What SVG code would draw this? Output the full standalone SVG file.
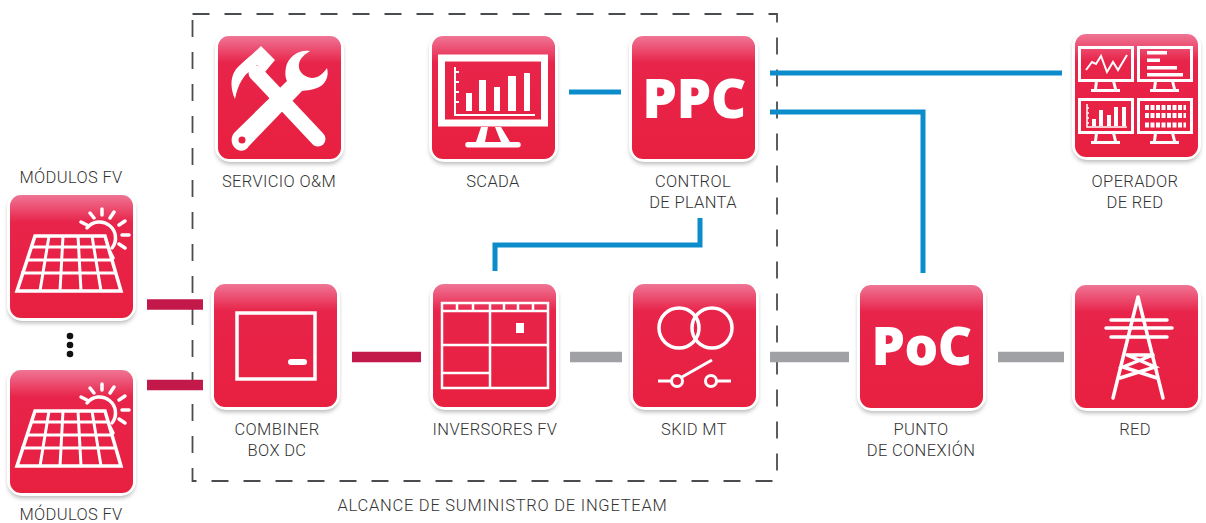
<svg xmlns="http://www.w3.org/2000/svg" xmlns:xlink="http://www.w3.org/1999/xlink" width="1206" height="523" viewBox="0 0 1206 523">
<style>
text{font-family:Roboto,"Liberation Sans",Arial,sans-serif;font-weight:300;font-size:16.500px;fill:#333;text-anchor:middle;letter-spacing:.35px}
text.big{font-family:"Open Sans","Liberation Sans",sans-serif;font-weight:800;fill:#fff;font-size:55px;letter-spacing:-.5px}
text.scope-label{letter-spacing:.75px}
.i{fill:none;stroke:#fff;stroke-width:3.500}
.f{fill:#fff;stroke:none}
.blue{fill:none;stroke:#0d8ccb;stroke-width:5}
.gray{fill:none;stroke:#a0a1a5;stroke-width:10.500}
.dc{fill:none;stroke:#c2184a;stroke-width:10.500}
</style>
<defs>
<linearGradient id="g" x1="0" y1="0" x2="0" y2="1"><stop offset="0" stop-color="#ef7595"/><stop offset=".22" stop-color="#e8244a"/><stop offset="1" stop-color="#e82040"/></linearGradient>
<filter id="s" x="-15%" y="-15%" width="130%" height="130%"><feGaussianBlur stdDeviation="2"/></filter>
<g id="tile">
<rect x="-2" y="1" width="127" height="127" rx="14" fill="#8a8a8a" filter="url(#s)" opacity=".6"/>
<rect x="-3" y="-3" width="129" height="129" rx="15" fill="#fff"/>
<rect width="123" height="123" rx="11" fill="url(#g)"/>
</g>
<g id="pv">
<use xlink:href="#tile"/>
<g class="i" stroke-linecap="round" stroke-width="3">
<path d="M77 33A15.500 15.500 0 1 1 102 53"/>
<path d="M71 27L77 30M80 18L84 23M92 14V20M104 17L100 23M115 26L109 30M119 40H112M115 53L109 49M103 63L100 57"/>
</g>
<path class="i" d="M25 41H95L111 96H7Z"/>
<path class="i" style="stroke-width:3" d="M21 52H98M16 65H103M11 78H106M39 41L30 96M53 41L50 96M68 41L71 96M82 41L91 96"/>
</g>
<g id="mon">
<path class="f" d="M18 0h3l-1 8h-3zM35 0h3l2 8h-3zM14 8h29v3h-29z"/>
</g>
</defs>
<g id="scope"><path d="M192.500 14H777V481H192.500Z" fill="none" stroke="#4a4d50" stroke-width="1.800" stroke-dasharray="17 15"/></g>
<g id="connectors">
<path class="dc" d="M147 304.500H203M147 385H203M352 357H421"/>
<path class="gray" d="M570 357H622M770 357H849M998 357H1064"/>
<path class="blue" d="M569 92H621M770 73H1062M770 112H923V273M495 271V245H700V218"/>
</g>
<g id="modulos1" transform="translate(10 195)"><use xlink:href="#pv"/></g>
<text x="71" y="183">MÓDULOS FV</text>
<g id="modulos2" transform="translate(10 370)"><use xlink:href="#pv"/></g>
<text x="71" y="520">MÓDULOS FV</text>
<g id="dots" fill="#111"><circle cx="70" cy="336" r="3.300"/><circle cx="70" cy="345" r="3.300"/><circle cx="70" cy="354" r="3.300"/></g>
<g id="servicio" transform="translate(218 36)"><use xlink:href="#tile"/>
<path class="f" d="M43 10L57 24L47 36L39 29L34 34C26 38 20 48 17 63C11 50 13 37 21 30C27 24 35 18 43 10Z"/>
<path class="i" style="stroke-width:15;stroke-linecap:round" d="M38 37L100 103"/>
<path class="f" d="M92 15C81 13 70 21 68 31C67 37 67 41 69 45L17 96C12 101 13 108 17 112C21 116 27 116 31 110L84 55C92 54 104 53 108 44C110 40 110 36 109 32C105 38 100 42 94 42C85 41 80 35 81 28C82 22 87 18 92 15Z"/>
<circle cx="24" cy="104" r="3.500" fill="#e82040"/>
</g>
<text x="279" y="187">SERVICIO O&amp;M</text>
<g id="scada" transform="translate(432 36)"><use xlink:href="#tile"/>
<rect class="i" style="stroke-width:7" x="9.500" y="22" width="103" height="65"/>
<path class="i" style="stroke-width:2" d="M23 31V79H103M23 36H27M23 46H27M23 56H27M23 66H27"/>
<path class="f" d="M34 57h6v18h-6zM47 44h7v31h-7zM62 51h6v24h-6zM76 40h8v35h-8zM92 37h6v38h-6z"/>
<path class="f" d="M49 91h7l-3 15h-9zM63 91h6l9 15h-9zM36 106H86a2.500 2.500 0 0 1 0 5.500H36a2.500 2.500 0 0 1 0-5.500z"/>
</g>
<text x="493" y="187">SCADA</text>
<g id="ppc" transform="translate(632 36)"><use xlink:href="#tile"/><text class="big" x="62" y="82">PPC</text></g>
<text x="693" y="187">CONTROL</text><text x="693" y="208">DE PLANTA</text>
<g id="operador" transform="translate(1075 34)"><use xlink:href="#tile"/>
<g class="i" style="stroke-width:3">
<rect x="4.500" y="13.500" width="53" height="33"/><rect x="63.500" y="13.500" width="53" height="33"/><rect x="4.500" y="65.500" width="53" height="33"/><rect x="63.500" y="65.500" width="53" height="33"/>
<path style="stroke-width:2" d="M11 36L17 28L21 30L26 22L32 38L38 28L43 36L52 21"/>
<path style="stroke-width:1.500" d="M12 70V93H52M12 74h2M12 79h2M12 84h2M12 89h2"/>
</g>
<path class="f" d="M72 17h20v3.500h-20zM72 24.500h13v3.500h-13zM72 32h30v3.500h-30zM72 39h36v3.500h-36z"/>
<path class="f" d="M17 85h4v7h-4zM24 76h4v16h-4zM32 81h4v11h-4zM39 73h4v19h-4zM47 73h4v19h-4z"/>
<path fill="none" stroke="#fff" stroke-width="5" stroke-dasharray="4 1.500" d="M70 73.500H111M70 81.500H111M70 91H111"/>
<use xlink:href="#mon" transform="translate(2 47)"/><use xlink:href="#mon" transform="translate(61 47)"/><use xlink:href="#mon" transform="translate(2 99)"/><use xlink:href="#mon" transform="translate(61 99)"/>
</g>
<text x="1135" y="187">OPERADOR</text><text x="1135" y="208">DE RED</text>
<g id="combiner" transform="translate(214 284)"><use xlink:href="#tile"/>
<rect class="i" x="23" y="29" width="78" height="66"/>
<rect class="f" x="74" y="75" width="19" height="6" rx="3"/>
</g>
<text x="277" y="435">COMBINER</text><text x="277" y="456">BOX DC</text>
<g id="inversores" transform="translate(433 284)"><use xlink:href="#tile"/>
<path class="i" style="stroke-width:2.500" d="M9 19H115V104H9ZM9 27H115M24 19V27M40 19V27M57 19V104M71 19V27M85 19V27M100 19V27M9 61H115M9 89H57"/>
<rect class="f" x="83" y="39" width="8" height="10"/>
</g>
<text x="495" y="435">INVERSORES FV</text>
<g id="skid" transform="translate(633 284)"><use xlink:href="#tile"/>
<circle class="i" cx="46" cy="44" r="20"/><circle class="i" cx="79" cy="44" r="20"/>
<path class="i" style="stroke-width:3" d="M25 97H38M49 93L79 76M84 97H98"/>
<circle class="i" style="stroke-width:3" cx="44" cy="97" r="5.500"/><circle class="i" style="stroke-width:3" cx="78" cy="97" r="5.500"/>
</g>
<text x="694" y="435">SKID MT</text>
<g id="poc" transform="translate(860 285)"><use xlink:href="#tile"/><text class="big" x="61.500" y="80" style="font-size:53px">PoC</text></g>
<text x="921" y="435">PUNTO</text><text x="921" y="456">DE CONEXIÓN</text>
<g id="red" transform="translate(1075 285)"><use xlink:href="#tile"/>
<path class="i" style="stroke-linecap:round" d="M63 12L38 113M63 12L88 113"/>
<path class="i" style="stroke-linecap:round" d="M36 35H92M31 43H97M36 52H92M52 70H78M52 70L80 82L45 93M78 70L48 82L82 93"/>
</g>
<text x="1135" y="435">RED</text>
<text class="scope-label" x="502.500" y="511">ALCANCE DE SUMINISTRO DE INGETEAM</text>
</svg>
